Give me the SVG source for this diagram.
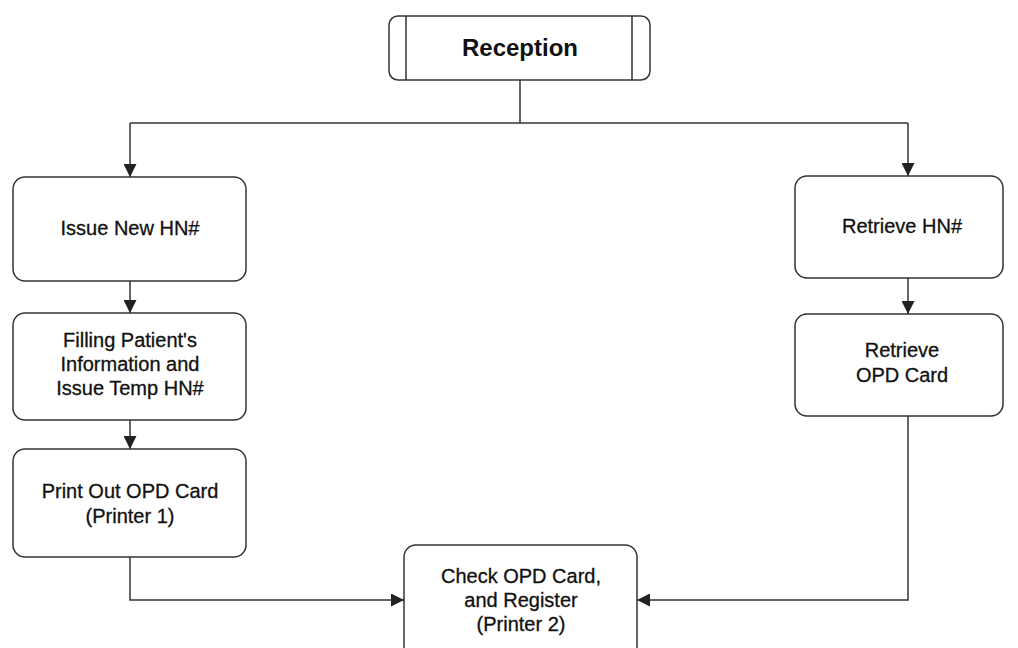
<svg xmlns="http://www.w3.org/2000/svg" width="1018" height="648" viewBox="0 0 1018 648">
<defs>
<style>
.box{fill:#fff;stroke:#333;stroke-width:1.5}
.t{font-family:"Liberation Sans",Arial,sans-serif;font-size:20px;fill:#111;stroke:#111;stroke-width:0.3;text-anchor:middle}
.tb{font-family:"Liberation Sans",Arial,sans-serif;font-size:24px;font-weight:bold;fill:#111;text-anchor:middle}
.c{fill:none;stroke:#333;stroke-width:1.5}
</style>
<marker id="ah" viewBox="0 0 10 10" refX="10" refY="5" markerWidth="13" markerHeight="13" markerUnits="userSpaceOnUse" orient="auto">
<path d="M0,0 L10,5 L0,10 Z" fill="#222"/>
</marker>
</defs>
<rect width="1018" height="648" fill="#fff"/>
<g id="connectors">
<path class="c" d="M520,80 V123"/>
<path class="c" d="M130,123 H908"/>
<path class="c" d="M130,123 V177" marker-end="url(#ah)"/>
<path class="c" d="M908,123 V176" marker-end="url(#ah)"/>
<path class="c" d="M130,281 V313" marker-end="url(#ah)"/>
<path class="c" d="M130,420 V449" marker-end="url(#ah)"/>
<path class="c" d="M908,278 V314" marker-end="url(#ah)"/>
<path class="c" d="M130,557 V600 H404" marker-end="url(#ah)"/>
<path class="c" d="M908,416 V600 H637" marker-end="url(#ah)"/>
</g>
<g id="reception">
<rect class="box" x="389" y="16" width="261" height="64" rx="9"/>
<path class="c" d="M406,16 V80 M632,16 V80"/>
<text class="tb" x="520" y="56">Reception</text>
</g>
<g id="issue-new">
<rect class="box" x="13" y="177" width="233" height="104" rx="12"/>
<text class="t" x="130" y="235">Issue New HN#</text>
</g>
<g id="filling">
<rect class="box" x="13" y="313" width="233" height="107" rx="12"/>
<text class="t" x="130" y="347">Filling Patient's</text>
<text class="t" x="130" y="371">Information and</text>
<text class="t" x="130" y="395">Issue Temp HN#</text>
</g>
<g id="print-out">
<rect class="box" x="13" y="449" width="233" height="108" rx="12"/>
<text class="t" x="130" y="498">Print Out OPD Card</text>
<text class="t" x="130" y="523">(Printer 1)</text>
</g>
<g id="retrieve-hn">
<rect class="box" x="795" y="176" width="208" height="102" rx="12"/>
<text class="t" x="902" y="233">Retrieve HN#</text>
</g>
<g id="retrieve-opd">
<rect class="box" x="795" y="314" width="208" height="102" rx="12"/>
<text class="t" x="902" y="357">Retrieve</text>
<text class="t" x="902" y="382">OPD Card</text>
</g>
<g id="check">
<rect class="box" x="404" y="545" width="233" height="120" rx="12"/>
<text class="t" x="521" y="583">Check OPD Card,</text>
<text class="t" x="521" y="607">and Register</text>
<text class="t" x="521" y="631">(Printer 2)</text>
</g>
</svg>
